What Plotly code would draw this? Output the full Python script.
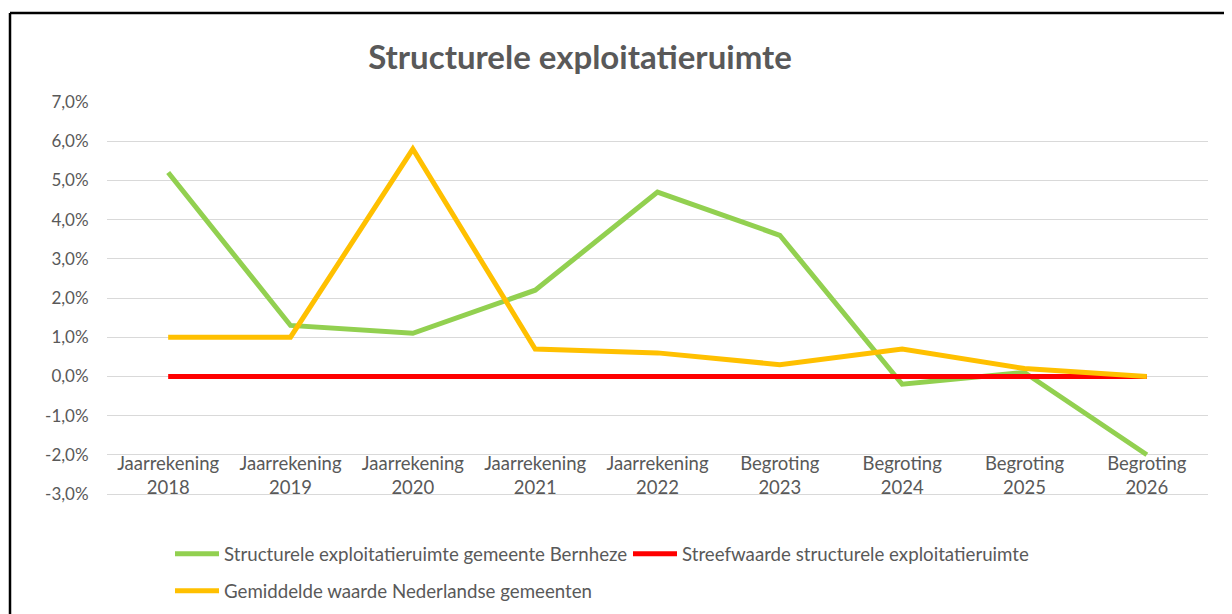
import plotly.graph_objects as go

categories = ["Jaarrekening<br>2018", "Jaarrekening<br>2019", "Jaarrekening<br>2020",
              "Jaarrekening<br>2021", "Jaarrekening<br>2022", "Begroting<br>2023",
              "Begroting<br>2024", "Begroting<br>2025", "Begroting<br>2026"]
bernheze = [5.2, 1.3, 1.1, 2.2, 4.7, 3.6, -0.2, 0.1, -2.0]
streefwaarde = [0, 0, 0, 0, 0, 0, 0, 0, 0]
gemiddelde = [1.0, 1.0, 5.8, 0.7, 0.6, 0.3, 0.7, 0.2, 0.0]
y_ticks = [7, 6, 5, 4, 3, 2, 1, 0, -1, -2, -3]
y_ticktext = ["7,0%", "6,0%", "5,0%", "4,0%", "3,0%", "2,0%", "1,0%", "0,0%",
              "-1,0%", "-2,0%", "-3,0%"]

names = ["Structurele exploitatieruimte gemeente Bernheze",
         "Streefwaarde structurele exploitatieruimte",
         "Gemiddelde waarde Nederlandse gemeenten"]

FONT = "Lato, Open Sans, sans-serif"
GREY = "#595959"
GRID = "#D9D9D9"
LW = 5

fig = go.Figure()
fig.add_trace(go.Scatter(x=categories, y=bernheze, mode="lines", name=names[0],
                         line=dict(color="#92D050", width=LW), legend="legend"))
fig.add_trace(go.Scatter(x=categories, y=streefwaarde, mode="lines", name=names[1],
                         line=dict(color="#FF0000", width=LW), legend="legend"))
fig.add_trace(go.Scatter(x=categories, y=gemiddelde, mode="lines", name=names[2],
                         line=dict(color="#FFC000", width=LW), legend="legend2"))

# page body has an 8px margin; work in reference-pixel coordinates and shift
OFF = 8
W, H = 1232 - OFF, 614 - OFF
PX0, PX1, PY0, PY1 = 107 - OFF, 1208 - OFF, 102 - OFF, 494 - OFF
L, T = PX0, PY0
R, B = W - PX1, H - PY1
pw, ph = PX1 - PX0, PY1 - PY0


def px_x(rx):
    return (rx - OFF - L) / pw


def px_y(ry):
    return (PY1 - (ry - OFF)) / ph


fig.update_layout(
    width=W, height=H,
    margin=dict(l=L, r=R, t=T, b=B, autoexpand=False),
    paper_bgcolor="white", plot_bgcolor="white",
    font=dict(family=FONT, color=GREY, size=18),
    title=dict(text="<b>Structurele exploitatieruimte</b>", x=(580 - OFF) / W, xanchor="center",
               y=1 - (57 - OFF) / H, yanchor="middle",
               font=dict(size=33, color=GREY, family=FONT)),
    xaxis=dict(showgrid=False, zeroline=False, showline=True, linecolor=GRID, linewidth=1.3,
               ticks="", ticklabelstandoff=-47, tickfont=dict(size=18.5, color=GREY),
               range=[-0.5, len(categories) - 0.5]),
    yaxis=dict(range=[-3, 7], tickvals=y_ticks, ticktext=y_ticktext,
               showgrid=True, gridcolor=GRID, gridwidth=1.3, zeroline=False,
               ticks="outside", ticklen=14, tickcolor="rgba(0,0,0,0)",
               tickfont=dict(size=17, color=GREY)),
    legend=dict(orientation="h", x=px_x(170), xanchor="left", y=px_y(554), yanchor="middle",
                entrywidth=399, entrywidthmode="pixels", itemwidth=44,
                font=dict(size=18.7, color=GREY), bgcolor="rgba(0,0,0,0)"),
    legend2=dict(orientation="h", x=px_x(170), xanchor="left", y=px_y(591), yanchor="middle",
                 itemwidth=44, font=dict(size=18.7, color=GREY), bgcolor="rgba(0,0,0,0)"),
    shapes=[
        dict(type="line", xref="paper", yref="paper", x0=px_x(10), x1=px_x(10),
             y0=px_y(13), y1=px_y(660), line=dict(color="black", width=2.5)),
        dict(type="line", xref="paper", yref="paper", x0=px_x(10), x1=px_x(1280),
             y0=px_y(13), y1=px_y(13), line=dict(color="black", width=2.5)),
    ],
    showlegend=True,
)

fig.write_html("out.html")
